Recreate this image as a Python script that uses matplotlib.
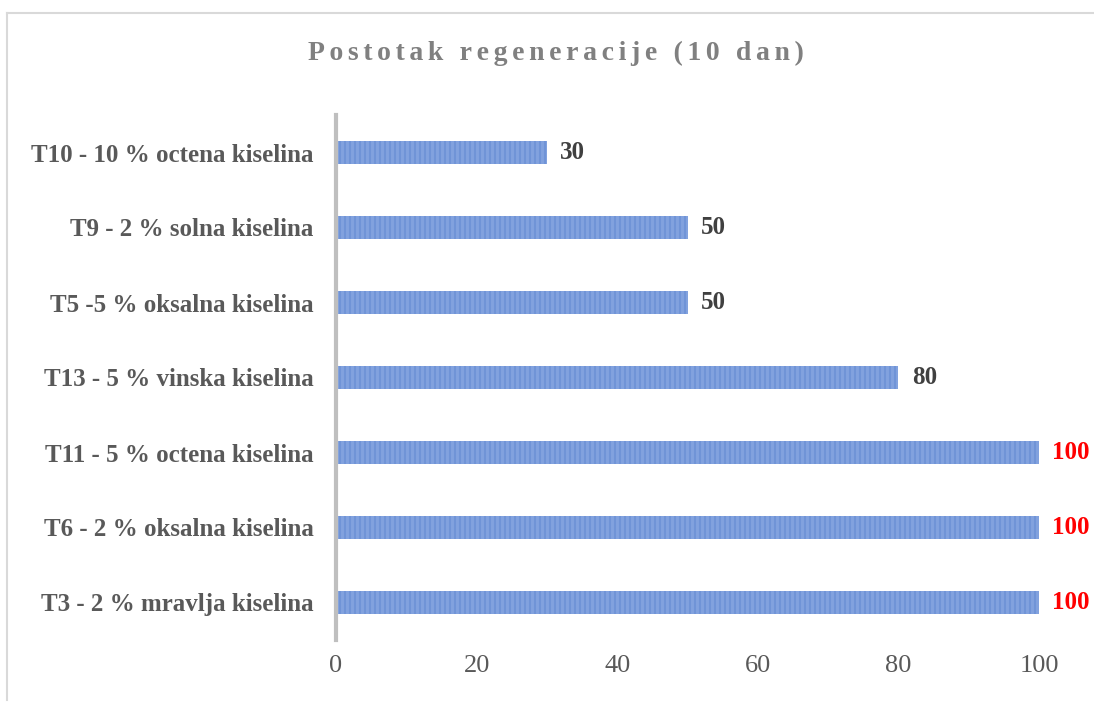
import matplotlib
matplotlib.use("Agg")
import matplotlib.pyplot as plt
from matplotlib.lines import Line2D

# dados
tretmani = ["T3 - 2 % mravlja kiselina", "T6 - 2 % oksalna kiselina",
            "T11 - 5 % octena kiselina", "T13 - 5 % vinska kiselina",
            "T5 -5 % oksalna kiselina", "T9 - 2 % solna kiselina",
            "T10 - 10 % octena kiselina"]
regeneracija = [100, 100, 100, 80, 50, 50, 30]
x_ticks = [0, 20, 40, 60, 80, 100]

plt.rcParams['font.family'] = ['Liberation Serif', 'DejaVu Serif']
plt.rcParams['hatch.color'] = '#A6C0EE'
plt.rcParams['hatch.linewidth'] = 0.35

fig = plt.figure(figsize=(10.94, 7.03), dpi=100)
ax = fig.add_axes([336/1094, 63/703, 703/1094, 525/703])

ax.barh(range(len(tretmani)), regeneracija, height=0.3, color='#3E6BC2',
        hatch='|' * 20, linewidth=0)

for i, v in enumerate(regeneracija):
    boja = 'red' if v == 100 else '#404040'
    ax.text(v + 1.9, i, str(v), va='center', ha='left', fontsize=18,
            fontweight='bold', color=boja)

ax.set_xlim(0, 100)
ax.set_ylim(-0.5, 6.5)
ax.set_yticks(range(len(tretmani)))
ax.set_yticklabels(tretmani, fontsize=18, fontweight='bold', color='#595959')
ax.set_xticks(x_ticks)
ax.set_xticklabels([str(t) for t in x_ticks], fontsize=19, color='#595959')
ax.tick_params(axis='both', length=0)
ax.tick_params(axis='y', pad=16)
ax.tick_params(axis='x', pad=11)

for s in ['top', 'right', 'bottom']:
    ax.spines[s].set_visible(False)
ax.spines['left'].set_color('#BFBFBF')
ax.spines['left'].set_linewidth(3)

# naslov
naslov = "Postotak regeneracije (10 dan)"
fig.text(556/1094, 1 - 53/703, "\u2006".join(naslov), ha='center', va='center',
         fontsize=20, fontweight='bold', color='#808080',
         family=['Liberation Serif', 'DejaVu Sans'])

# okvir
fig.add_artist(Line2D([7/1094, 7/1094], [1 - 13/703, 1 - 700/703],
                      color='#D9D9D9', linewidth=1.5, transform=fig.transFigure))
fig.add_artist(Line2D([7/1094, 1], [1 - 13/703, 1 - 13/703],
                      color='#D9D9D9', linewidth=1.5, transform=fig.transFigure))

fig.savefig("out.png", dpi=100)
